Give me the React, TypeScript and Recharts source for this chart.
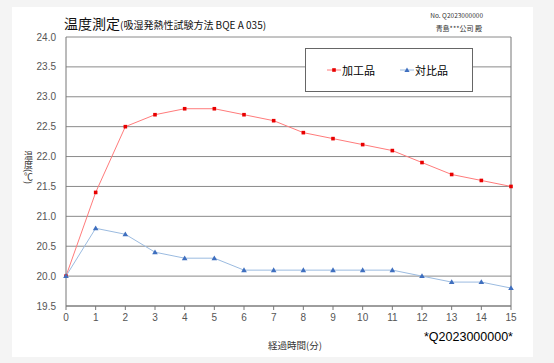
import { LineChart, Line, XAxis, YAxis, CartesianGrid, ReferenceLine } from 'recharts'

const minutes = [0, 1, 2, 3, 4, 5, 6, 7, 8, 9, 10, 11, 12, 13, 14, 15]
const processed = [20.0, 21.4, 22.5, 22.7, 22.8, 22.8, 22.7, 22.6, 22.4, 22.3, 22.2, 22.1, 21.9, 21.7, 21.6, 21.5]
const control = [20.0, 20.8, 20.7, 20.4, 20.3, 20.3, 20.1, 20.1, 20.1, 20.1, 20.1, 20.1, 20.0, 19.9, 19.9, 19.8]
const yTicks = [19.5, 20.0, 20.5, 21.0, 21.5, 22.0, 22.5, 23.0, 23.5, 24.0]

const RED_LINE = '#ff7b7b'
const RED_DOT = '#e80000'
const BLUE_LINE = '#9bbbe0'
const BLUE_DOT = '#3f6fbf'
const JP = '"Noto Sans CJK JP", "Liberation Sans", sans-serif'
const SANS = '"Liberation Sans", Arial, sans-serif'

const data = minutes.map((m, i) => ({ m, processed: processed[i], control: control[i] }))

function SquareDot(props: any) {
  const { cx, cy } = props
  if (cx == null || cy == null) return null
  return <rect x={cx - 1.8} y={cy - 1.8} width={3.6} height={3.6} fill={RED_DOT} />
}

function TriangleDot(props: any) {
  const { cx, cy } = props
  if (cx == null || cy == null) return null
  return <polygon points={`${cx},${cy - 2.8} ${cx - 2.8},${cy + 2} ${cx + 2.8},${cy + 2}`} fill={BLUE_DOT} />
}

function LegendBox() {
  return (
    <div
      style={{
        position: 'absolute',
        left: 305,
        top: 48,
        width: 166,
        height: 42,
        border: '1px solid #666',
        background: '#fff',
        display: 'flex',
        alignItems: 'center',
        fontFamily: JP,
        fontSize: 11,
        color: '#000',
      }}
    >
      <svg width={14} height={10} style={{ marginLeft: 21 }}>
        <line x1={0} y1={5} x2={14} y2={5} stroke={RED_LINE} />
        <rect x={5.2} y={3.2} width={3.6} height={3.6} fill={RED_DOT} />
      </svg>
      <span style={{ marginLeft: 1 }}>加工品</span>
      <svg width={14} height={10} style={{ marginLeft: 25 }}>
        <line x1={0} y1={5} x2={14} y2={5} stroke={BLUE_LINE} />
        <polygon points="7,2.4 4.4,7 9.6,7" fill={BLUE_DOT} />
      </svg>
      <span style={{ marginLeft: 1 }}>対比品</span>
    </div>
  )
}

export default function App() {
  return (
    <div style={{ position: 'fixed', left: 0, top: 0, width: 554, height: 363, background: '#f4f4f4', overflow: 'hidden' }}>
      <div style={{ position: 'absolute', left: 12, top: 7, width: 521, height: 350, background: '#fff' }} />
      <div style={{ position: 'absolute', left: 0, top: 0 }}>
        <LineChart width={554} height={363} data={data} margin={{ top: 37, right: 43, bottom: 27, left: 6 }}>
          <CartesianGrid horizontal vertical={false} stroke="#8a8a8a" />
          <ReferenceLine x={15} stroke="#777" />
          <XAxis
            dataKey="m"
            type="number"
            domain={[0, 15]}
            ticks={minutes}
            interval={0}
            height={30}
            stroke="#777"
            tickSize={4}
            tickMargin={4}
            tick={{ fontSize: 10, fill: '#555', fontFamily: SANS }}
          />
          <YAxis
            type="number"
            domain={[19.5, 24]}
            ticks={yTicks}
            width={60}
            stroke="#777"
            tickLine={false}
            tickSize={0}
            tickMargin={10}
            tickFormatter={(v: number) => v.toFixed(1)}
            tick={{ fontSize: 10, fill: '#555', fontFamily: SANS }}
          />
          <Line
            dataKey="processed"
            name="加工品"
            stroke={RED_LINE}
            strokeWidth={1}
            dot={<SquareDot />}
            activeDot={false}
            isAnimationActive={false}
          />
          <Line
            dataKey="control"
            name="対比品"
            stroke={BLUE_LINE}
            strokeWidth={1}
            dot={<TriangleDot />}
            activeDot={false}
            isAnimationActive={false}
          />
        </LineChart>
      </div>

      <LegendBox />

      <div style={{ position: 'absolute', left: 64, top: 14, fontFamily: JP, color: '#111', whiteSpace: 'nowrap', lineHeight: 1 }}>
        <span style={{ fontSize: 14 }}>温度測定</span>
        <span style={{ fontSize: 10 }}>(吸湿発熱性試験方法 BQE A 035)</span>
      </div>
      <div style={{ position: 'absolute', right: 71, top: 12, fontFamily: JP, fontSize: 6.5, color: '#333', whiteSpace: 'nowrap', lineHeight: 1 }}>
        No. Q2023000000
      </div>
      <div style={{ position: 'absolute', right: 72, top: 25, fontFamily: JP, fontSize: 7, color: '#333', whiteSpace: 'nowrap', lineHeight: 1 }}>
        青島***公司 殿
      </div>
      <div
        style={{
          position: 'absolute',
          left: 24,
          top: 151,
          writingMode: 'vertical-rl',
          textOrientation: 'mixed',
          fontFamily: JP,
          fontSize: 9,
          color: '#333',
          lineHeight: 1,
          whiteSpace: 'nowrap',
        }}
      >
        温度(℃)
      </div>
      <div style={{ position: 'absolute', left: 268, top: 341, fontFamily: JP, fontSize: 9.5, color: '#333', whiteSpace: 'nowrap', lineHeight: 1 }}>
        経過時間(分)
      </div>
      <div
        style={{
          position: 'absolute',
          left: 424,
          top: 331,
          fontFamily: SANS,
          fontSize: 12.5,
          color: '#000',
          whiteSpace: 'nowrap',
          lineHeight: 1,
        }}
      >
        *Q2023000000*
      </div>
    </div>
  )
}
